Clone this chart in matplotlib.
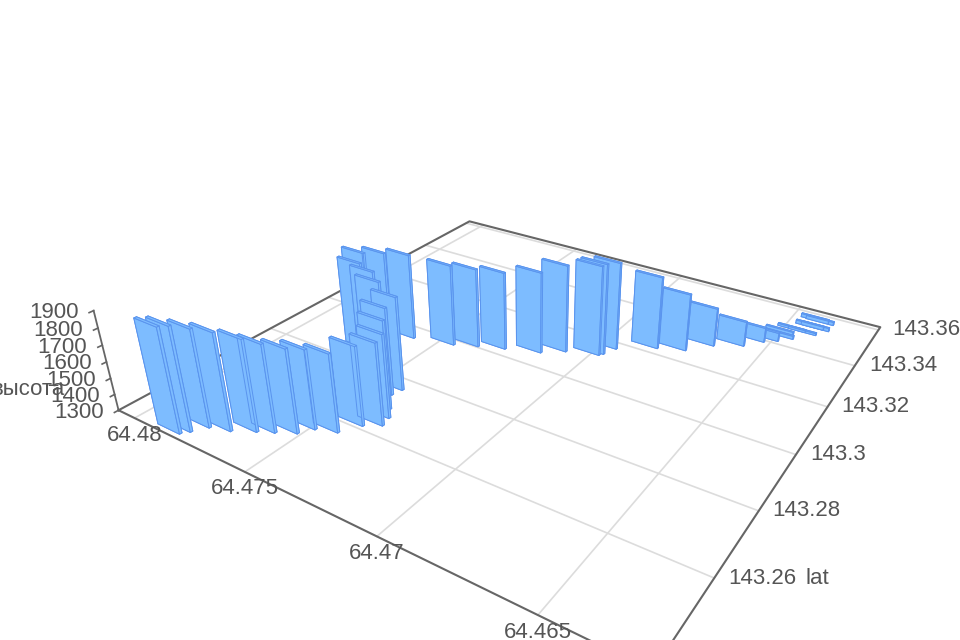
import matplotlib
matplotlib.use("Agg")
import matplotlib.pyplot as plt
import numpy as np
from mpl_toolkits.mplot3d import proj3d

plt.rcParams['font.family'] = ['Liberation Sans', 'DejaVu Sans']

lat = [143.2388, 143.2404, 143.2435, 143.2450, 143.2477, 143.2495, 143.2518, 143.2548, 143.2565, 143.2610, 143.2633,
       143.2661, 143.2687, 143.2732, 143.2759, 143.2797, 143.2844, 143.2854, 143.2903, 143.2928, 143.2952, 143.2978,
       143.3003, 143.3028, 143.3059, 143.3095, 143.3123, 143.3133, 143.3170, 143.3225, 143.3252, 143.3308, 143.3346,
       143.3390, 143.3412, 143.3441, 143.3460, 143.3490, 143.3489, 143.3525, 143.3525, 143.3565, 143.3562]
lon = [64.4786, 64.4784, 64.4781, 64.4774, 64.4767, 64.4762, 64.4756, 64.4753, 64.4746, 64.4742, 64.4737,
       64.4738, 64.4741, 64.4746, 64.4745, 64.4757, 64.4766, 64.4773, 64.4778, 64.4772, 64.4764, 64.4749,
       64.4741, 64.4732, 64.4720, 64.4713, 64.4702, 64.4701, 64.4699, 64.4687, 64.4678, 64.4671, 64.4662,
       64.4657, 64.4653, 64.4649, 64.4650, 64.4647, 64.4643, 64.4642, 64.4640, 64.4642, 64.4640]
height = [1926, 1922, 1885, 1883, 1849, 1826, 1803, 1777, 1770, 1778, 1796,
          1806, 1839, 1836, 1875, 1870, 1844, 1856, 1852, 1852, 1850, 1821,
          1807, 1799, 1821, 1859, 1875, 1882, 1861, 1767, 1670, 1549, 1462,
          1395, 1355, 1320, 1320, 1313, 1313, 1321, 1321, 1321, 1321]

lat_ticks = [143.26, 143.28, 143.3, 143.32, 143.34, 143.36]
lon_ticks = [64.465, 64.47, 64.475, 64.48]
z_ticks = [1300, 1400, 1500, 1600, 1700, 1800, 1900]

lat_min, lat_max = 143.2375, 143.3617
lon_min, lon_max = 64.4620, 64.4808
z_min, z_max = 1300, 1900

grid_color = '#dcdcdc'
axis_color = '#666666'
text_color = '#555555'
font_size = 16


def label(ax, x, y, z, text, dx, dy, **kwargs):
    px, py, _ = proj3d.proj_transform(x, y, z, ax.get_proj())
    ax.annotate(text, (px, py), xytext=(dx, dy), textcoords='offset pixels', color=text_color,
                fontsize=font_size, va='center', annotation_clip=False, **kwargs)


fig = plt.figure(figsize=(9.6, 6.4), dpi=100)
ax = fig.add_axes([-88 / 960, -296 / 640, 1200 / 960, 1200 / 640], projection='3d')
ax.set_xlim(lat_min, lat_max, view_margin=0)
ax.set_ylim(lon_min, lon_max, view_margin=0)
ax.set_zlim(z_min, z_max, view_margin=0)
ax.set_box_aspect((1, 1, 0.19), zoom=0.649)
ax.set_proj_type('persp', focal_length=0.1433)
ax.view_init(elev=28.3, azim=-146.9, roll=0)
ax.set_axis_off()
ax.computed_zorder = False

# floor grid
for t in lat_ticks:
    ax.plot([t, t], [lon_min, lon_max], [z_min, z_min], color=grid_color, lw=1.2, zorder=1)
for t in lon_ticks:
    ax.plot([lat_min, lat_max], [t, t], [z_min, z_min], color=grid_color, lw=1.2, zorder=1)

# floor outline and height axis
ax.plot([lat_min, lat_max, lat_max, lat_min, lat_min], [lon_max, lon_max, lon_min, lon_min, lon_max],
        [z_min] * 5, color=axis_color, lw=1.5, zorder=2)
ax.plot([lat_min, lat_min], [lon_max, lon_max], [z_min, z_max], color=axis_color, lw=1.3, zorder=2)
for t in z_ticks:
    ax.plot([lat_min - 0.001, lat_min], [lon_max, lon_max], [t, t], color=axis_color, lw=1.2, zorder=2)

x = np.array(lat)
y = np.array(lon)
top = np.array(height, dtype=float)
ax.bar3d(x, y - 0.0005, z_min, 0.0006, 0.00102, top - z_min, color='#7dbcff', edgecolor='#5a94ee',
         linewidth=0.7, shade=False, zorder=3)

for t in lat_ticks:
    label(ax, t, lon_min, z_min, str(t), 14, 0, ha='left')
label(ax, lat_ticks[0], lon_min, z_min, 'lat', 91, 0, ha='left')
for t in lon_ticks:
    label(ax, lat_min, t, z_min, str(t), 0, -17, ha='center')
for t in z_ticks:
    label(ax, lat_min, lon_max, t, str(t), -15, -2, ha='right')
label(ax, lat_min, lon_max, z_min, 'высота', -54, 21, ha='right')

fig.savefig('out.png', dpi=100)
